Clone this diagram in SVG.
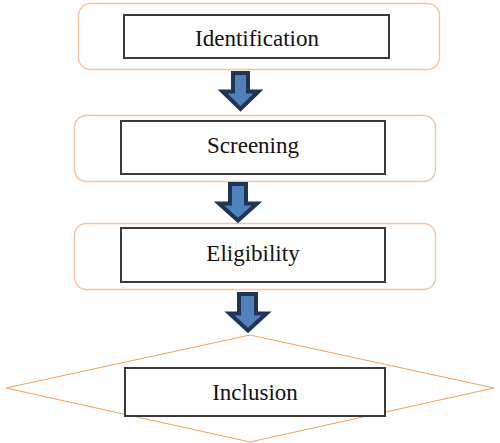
<svg xmlns="http://www.w3.org/2000/svg" width="500" height="443" viewBox="0 0 500 443">
<style>
.outer{fill:#fff;stroke:#f7c39f;stroke-width:1.4}
.inner{fill:#fff;stroke:#3a3a3a;stroke-width:2}
.dia{fill:#fff;stroke:#f4a460;stroke-width:1.2}
.arr{fill:#4f81bd;stroke:#1f3553;stroke-width:4;stroke-linejoin:miter}
text{font-family:"Liberation Serif","Times New Roman",serif;font-size:23px;fill:#111;text-anchor:middle}
</style>
<rect width="500" height="443" fill="#fff"/>
<g id="identification">
<rect class="outer" x="78.5" y="3.5" width="361" height="66" rx="12"/>
<rect class="inner" x="124" y="15" width="265" height="43"/>
<text x="257" y="46">Identification</text>
</g>
<g id="screening">
<rect class="outer" x="74.5" y="115.5" width="361" height="66" rx="12"/>
<rect class="inner" x="121" y="121" width="264" height="53"/>
<text x="253" y="153">Screening</text>
</g>
<g id="eligibility">
<rect class="outer" x="74.5" y="223.5" width="361" height="66" rx="12"/>
<rect class="inner" x="121" y="228" width="264" height="54"/>
<text x="253" y="261">Eligibility</text>
</g>
<g id="inclusion">
<polygon class="dia" points="250,335 494,388 250,442 6,388"/>
<rect class="inner" x="125" y="368" width="260" height="48"/>
<text x="255" y="400">Inclusion</text>
</g>
<g id="connectors">
<path class="arr" d="M233,73 H248 V91.5 H258.5 L240.5,109 L222.5,91.5 H233 Z"/>
<path class="arr" d="M230,184 H246 V203.5 H257 L238,220.5 L219,203.5 H230 Z"/>
<path class="arr" d="M239,294 H256 V313.5 H266.5 L248,330.5 L229.5,313.5 H239 Z"/>
</g>
</svg>
